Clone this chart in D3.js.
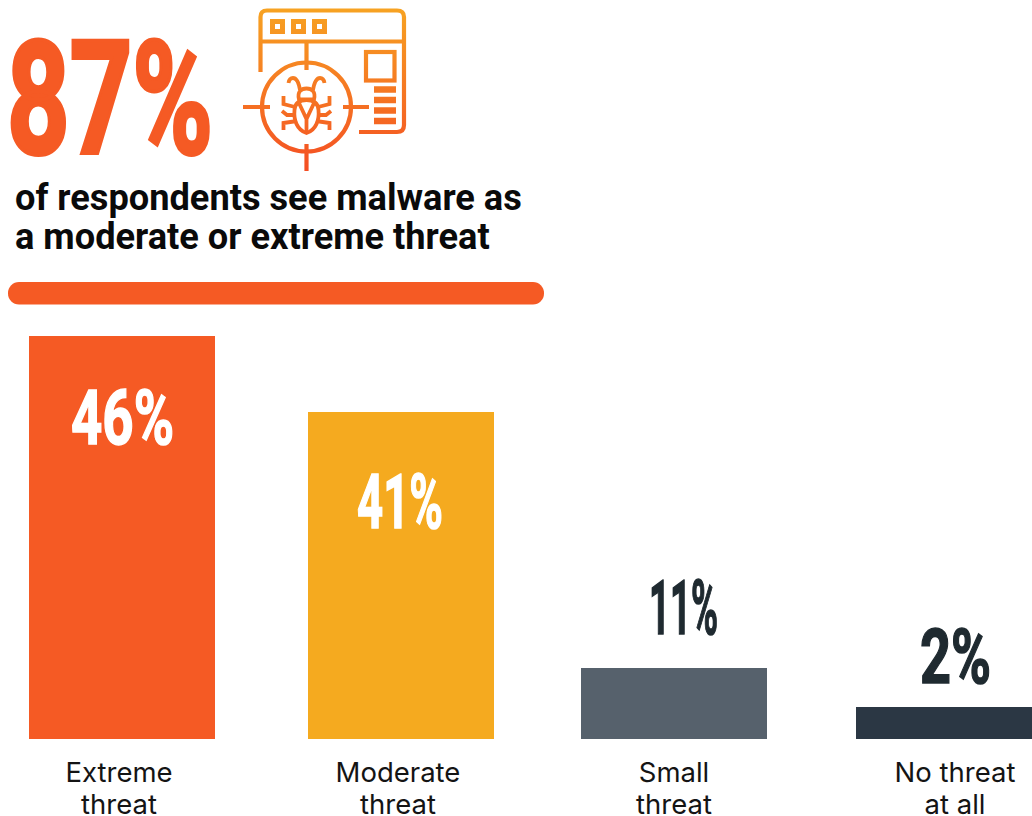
<!DOCTYPE html>
<html><head><meta charset="utf-8">
<script src="https://cdn.jsdelivr.net/npm/d3@7"></script>
<style>html,body{margin:0;padding:0;background:#fff;overflow:hidden}svg{display:block}</style>
</head><body>
<script>
const categories = ["Extreme threat","Moderate threat","Small threat","No threat at all"];
const categoryLines = [["Extreme","threat"],["Moderate","threat"],["Small","threat"],["No threat","at all"]];
const values = [46,41,11,2];
const barColors = ["#f55a24","#f5aa1f","#56616c","#2b3744"];
const headlineValue = "87%";
const headlineLines = ["of respondents see malware as","a moderate or extreme threat"];

const W=1032,H=816;
const svg=d3.select("body").append("svg").attr("width",W).attr("height",H);
const cond="'Liberation Sans Narrow','Roboto',sans-serif";

// the picture's bars are not proportional: the scale passes through each drawn height
const y=d3.scaleLinear().domain([0,2,11,41,46]).range([739,707,668,412,336]);
const x=d3.scaleOrdinal().domain(categories).range([29,308,581,856]);
const labelX=d3.scaleOrdinal().domain(categories).range([119,398,674,955]);
const barW=186;

// headline
svg.append("text").text(headlineValue)
  .attr("x",7).attr("y",153)
  .attr("font-family",cond).attr("font-weight",700).attr("font-size",158)
  .attr("fill","#f55a24").attr("stroke","#f55a24").attr("stroke-width",4)
  .attr("textLength",206).attr("lengthAdjust","spacingAndGlyphs");

svg.append("g").selectAll("text").data(headlineLines).join("text")
  .text(d=>d).attr("x",15).attr("y",(d,i)=>210+i*39)
  .attr("font-family","Roboto,sans-serif").attr("font-weight",700).attr("font-size",36.2)
  .attr("fill","#0a0a0a");

svg.append("rect").attr("x",8).attr("y",282).attr("width",536).attr("height",22.5).attr("rx",11).attr("fill","#f55a24");

// icon
const defs=svg.append("defs");
const grad=defs.append("linearGradient").attr("id","ig").attr("gradientUnits","userSpaceOnUse")
  .attr("x1",0).attr("x2",0).attr("y1",8).attr("y2",171);
grad.append("stop").attr("offset",0).attr("stop-color","#f7a322");
grad.append("stop").attr("offset",1).attr("stop-color","#f44d23");
const ic=svg.append("g").attr("fill","none").attr("stroke","url(#ig)").attr("stroke-width",4.2);
const P=d=>ic.append("path").attr("d",d);
P("M260.5 72V17Q260.5 10.5 267 10.5H397Q404 10.5 404 17V125Q404 132 397 132H359");
P("M260 41.5H404");
[272.5,293.5,314.5].forEach(a=>ic.append("rect").attr("x",a).attr("y",21.5).attr("width",10).attr("height",10).attr("stroke-width",5));
P("M306.5 42V70");
ic.append("circle").attr("cx",306.5).attr("cy",107).attr("r",44.5);
P("M243 107H270M343 107H369M306.5 144V171");
ic.append("rect").attr("x",366).attr("y",52).attr("width",28.5).attr("height",28.5);
ic.append("path").attr("stroke-width",6.4).attr("d","M374 89.5H396M374 100H396M374 110.5H396M374 121H396");
// bug
const bug=ic.append("g").attr("stroke-width",3.8);
bug.append("path").attr("d","M306.5 133C297 130 293.5 120 294.5 110C295 104 298 100 306.5 100C315 100 318 104 318.5 110C319.5 120 316 130 306.5 133Z");
bug.append("path").attr("d","M299 99.5C297 92 301 88.5 306.5 88.5C312 88.5 316 92 314 99.5H299Z");
bug.append("path").attr("d","M298.5 102L306.5 119L314.5 102M306.5 119V133");
bug.append("path").attr("d","M300 90C299 84 297 78 293 78C290 78 289 80 288.5 83M313 90C314 84 316 78 320 78C323 78 324 80 324.5 83");
bug.append("path").attr("d","M295 107L283.5 104V96M318 107L329.5 104V96M295 115H287L282 111M318 115H326L331 111M297 121L283.5 123V130M316 121L329.5 123V130");

// bars
svg.append("g").selectAll("rect").data(categories).join("rect")
  .attr("x",d=>x(d)).attr("width",barW)
  .attr("y",(d,i)=>y(values[i])).attr("height",(d,i)=>y(0)-y(values[i]))
  .attr("fill",(d,i)=>barColors[i]);

// value labels
const valueDy=[108,116,-34,-24], valueW=[103,86,69,71], valueX0=[71,357,649,920];
svg.append("g").selectAll("text").data(values).join("text")
  .text(d=>d+"%")
  .attr("x",(d,i)=>valueX0[i]).attr("y",(d,i)=>y(d)+valueDy[i])
  .attr("font-family",cond).attr("font-weight",700).attr("font-size",76)
  .attr("fill",(d,i)=>i<2?"#fff":"#1f2a30")
  .attr("stroke",(d,i)=>i<2?"#fff":"#1f2a30").attr("stroke-width",1.5)
  .attr("textLength",(d,i)=>valueW[i]).attr("lengthAdjust","spacingAndGlyphs");

// category labels
const cl=svg.append("g").selectAll("text").data(categories).join("text")
  .attr("text-anchor","middle").attr("font-family","Inter,Roboto,sans-serif").attr("font-size",27.5).attr("fill","#141414");
cl.selectAll("tspan").data((d,i)=>categoryLines[i].map(t=>({t,c:d}))).join("tspan")
  .text(d=>d.t).attr("x",d=>labelX(d.c)).attr("y",(d,i)=>782+i*32);
</script>
</body></html>
